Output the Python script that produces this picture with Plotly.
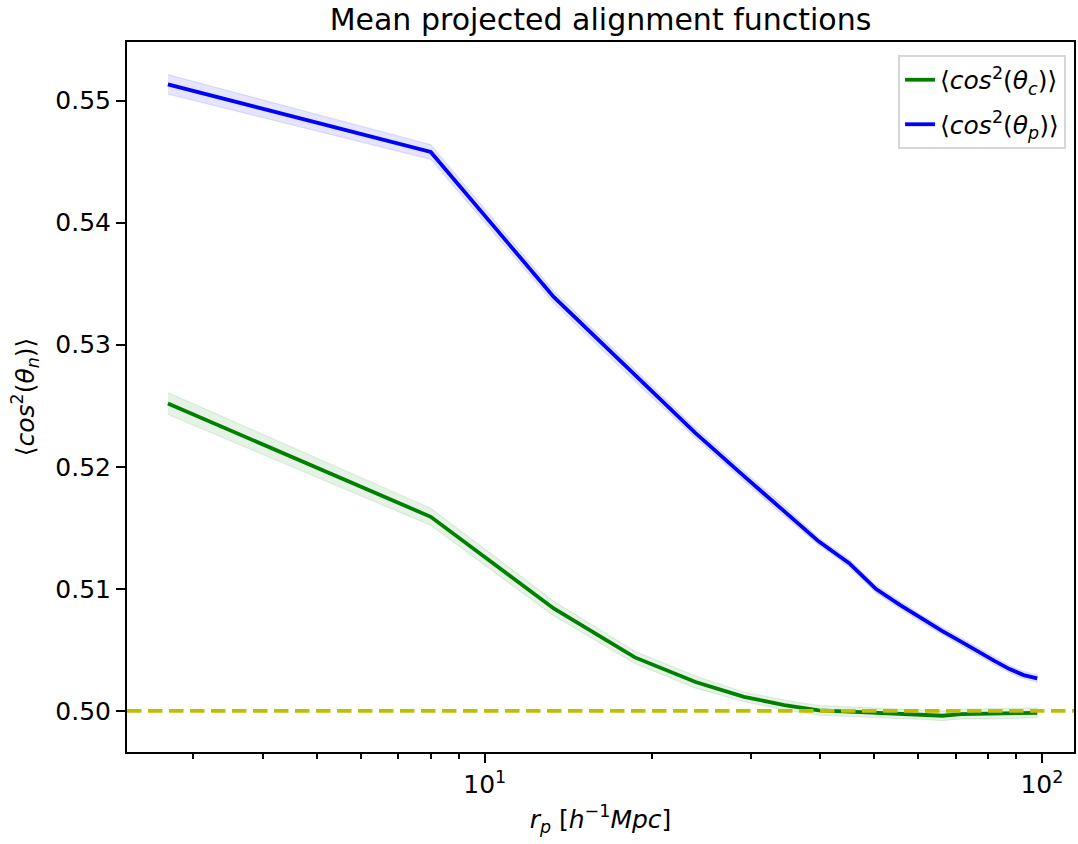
import numpy as np
import plotly.graph_objects as go

# ---- data ----
r_p = [2.7, 8.0, 13.3, 18.6, 23.9, 29.2, 34.5, 39.8, 45.1, 50.4,
       55.7, 61.0, 66.3, 71.6, 76.9, 82.2, 87.5, 92.8, 98.1]
cos2_p = [0.55133, 0.54579, 0.53391, 0.52750, 0.52276, 0.51923, 0.51636,
          0.51387, 0.51210, 0.50998, 0.50867, 0.50752, 0.50654, 0.50568,
          0.50484, 0.50409, 0.50342, 0.50293, 0.50266]
cos2_p_err = [0.0008, 0.0006, 0.0005, 0.0005, 0.0004, 0.0004, 0.0004, 0.0003,
              0.0003, 0.0003, 0.0003, 0.0003, 0.0003, 0.0003, 0.0003, 0.0003,
              0.0003, 0.0003, 0.0003]
cos2_c = [0.52518, 0.51590, 0.50839, 0.50438, 0.50236, 0.50115, 0.50048,
          0.50004, 0.49993, 0.49984, 0.49976, 0.49971, 0.49960, 0.49974,
          0.49976, 0.49974, 0.49976, 0.49979, 0.49984]
cos2_c_err = [0.0009, 0.0007, 0.0006, 0.0005, 0.0005, 0.0004, 0.0004, 0.0004,
              0.0004, 0.0004, 0.0004, 0.0004, 0.0004, 0.0004, 0.0004, 0.0004,
              0.0004, 0.0004, 0.0004]
reference_level = 0.5

x_major_ticks = [10, 100]
x_major_labels = ["10<sup>1</sup>", "10<sup>2</sup>"]
x_minor_ticks = [3, 4, 5, 6, 7, 8, 9, 20, 30, 40, 50, 60, 70, 80, 90]
y_ticks = [0.50, 0.51, 0.52, 0.53, 0.54, 0.55]

label_c = "⟨<i>cos</i><sup>2</sup>(<i>θ</i><sub><i>c</i></sub>)⟩"
label_p = "⟨<i>cos</i><sup>2</sup>(<i>θ</i><sub><i>p</i></sub>)⟩"
y_label = "⟨<i>cos</i><sup>2</sup>(<i>θ</i><sub><i>n</i></sub>)⟩"
x_label = "<i>r</i><sub><i>p</i></sub> [<i>h</i><sup>−1</sup><i>Mpc</i>]"
title = "Mean projected alignment functions"

FONT = "DejaVu Sans"

fig = go.Figure()


def add_series(y, err, color, fill, name, group):
    y = np.array(y)
    err = np.array(err)
    up = y + err
    lo = y - err
    fig.add_trace(go.Scatter(
        x=list(r_p) + list(r_p)[::-1],
        y=list(up) + list(lo)[::-1],
        fill="toself", fillcolor=fill,
        line=dict(color=fill, width=1.2), legendgroup=group,
        mode="lines", showlegend=False, hoverinfo="skip"))
    fig.add_trace(go.Scatter(
        x=r_p, y=y, mode="lines", name=name, legendgroup=group,
        line=dict(color=color, width=3.8)))


add_series(cos2_c, cos2_c_err, "#008000", "rgba(0,128,0,0.1)", label_c, "c")
add_series(cos2_p, cos2_p_err, "#0000ff", "rgba(0,0,255,0.1)", label_p, "p")

fig.add_hline(y=reference_level, line=dict(color="#bfbf00", width=3.8,
                                           dash="14.5px,6.5px"),
              layer="above")

axis_common = dict(
    showline=True, linecolor="black", linewidth=2, mirror=True,
    ticks="outside", ticklen=9, tickwidth=2, tickcolor="black",
    showgrid=False, zeroline=False,
    tickfont=dict(family=FONT, size=25, color="black"),
)

fig.update_layout(
    width=1078, height=844,
    margin=dict(l=127, r=2, t=42, b=92),
    paper_bgcolor="white", plot_bgcolor="white",
    font=dict(family=FONT, size=25, color="black"),
    title=dict(text=title, x=0.5, xref="paper", xanchor="center",
               y=1, yref="paper", yanchor="bottom", pad=dict(b=12),
               font=dict(family=FONT, size=30, color="black")),
    xaxis=dict(type="log", range=[np.log10(2.28), 2.0577],
               tickmode="array", tickvals=x_major_ticks, ticktext=x_major_labels,
               minor=dict(tickmode="array", tickvals=x_minor_ticks,
                          ticks="outside", ticklen=5, tickwidth=1.5,
                          tickcolor="black", showgrid=False),
               title=dict(text=x_label, standoff=12,
                          font=dict(family=FONT, size=25, color="black")),
               **axis_common),
    yaxis=dict(range=[0.49663, 0.5548], tickmode="array", tickvals=y_ticks,
               tickformat=".2f",
               title=dict(text=y_label, standoff=14,
                          font=dict(family=FONT, size=25, color="black")),
               **axis_common),
    legend=dict(x=0.9916, y=0.9817, xanchor="right", yanchor="top",
                bgcolor="rgba(255,255,255,0.8)", bordercolor="#d6d6d6",
                borderwidth=2, font=dict(family=FONT, size=25, color="black"),
                traceorder="grouped", tracegroupgap=9),
    showlegend=True,
)

fig.write_html("out.html")
